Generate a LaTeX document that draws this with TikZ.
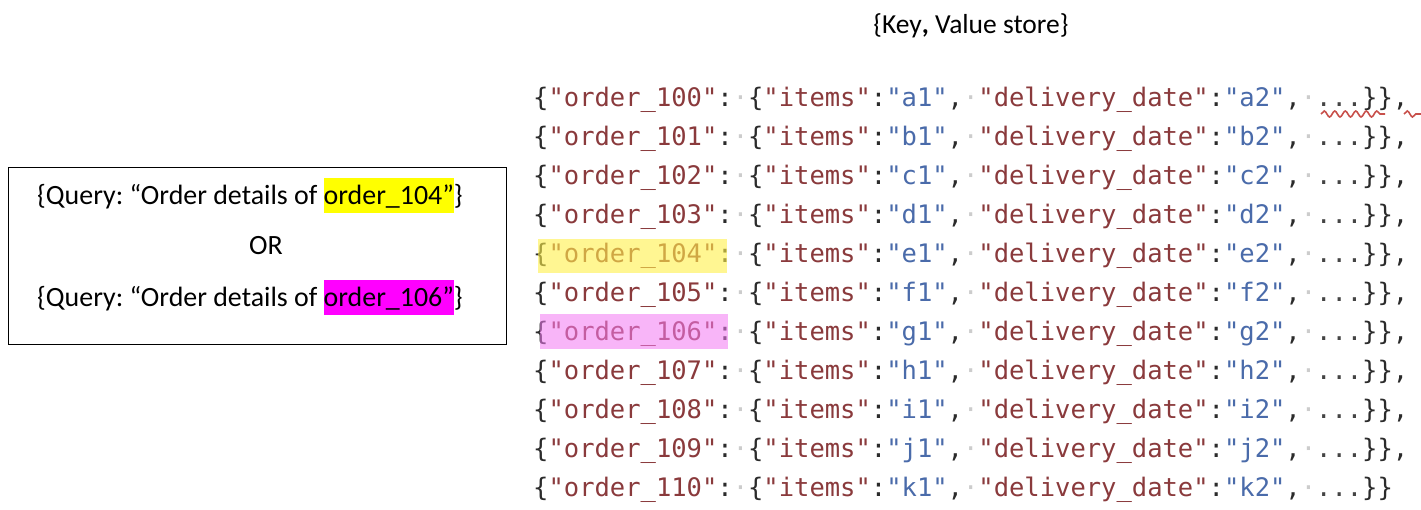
\documentclass[tikz,border=0pt]{standalone}
\usepackage{fontspec}
\setmainfont{Carlito}
\newfontfamily\codefont{DejaVu Sans Mono}
\usetikzlibrary{decorations.pathmorphing}
\definecolor{pc}{HTML}{2B2B2B}
\definecolor{kc}{HTML}{8A3A3C}
\definecolor{vc}{HTML}{4A6BAA}
\definecolor{dc}{HTML}{CCCCCC}
\definecolor{ec}{HTML}{444444}
\definecolor{hlyel}{HTML}{FFF04A}
\definecolor{hlpink}{HTML}{F47AF4}
\definecolor{squig}{HTML}{C8504B}
\definecolor{qyellow}{RGB}{255,255,0}
\definecolor{qmagenta}{RGB}{255,0,255}
\frenchspacing
\newcommand{\kvrow}[3]{%
{\color{pc}\{}{\color{kc}"order\_#1"}{\color{pc}:}{\color{dc}·}{\color{pc}\{}{\color{kc}"items"}{\color{pc}:}{\color{vc}"#21"}{\color{pc},}{\color{dc}·}{\color{kc}"delivery\_date"}{\color{pc}:}{\color{vc}"#22"}{\color{pc},}{\color{dc}·}{\color{ec}...}{\color{pc}\}\}#3}}
\newcommand{\hlbox}[2]{{\setlength{\fboxsep}{0pt}\colorbox{#1}{\rule[-9pt]{0pt}{35pt}#2}}}
\tikzset{
  coderow/.style={anchor=base west, inner sep=0pt, font=\codefont\fontsize{25.5}{30}\selectfont},
  qtext/.style={anchor=base west, inner sep=0pt, font=\fontsize{27.9}{32}\selectfont},
  qbox/.style={draw=black, line width=1pt, fill=none},
  squiggle/.style={squig, line width=1.6pt, decorate, decoration={snake, amplitude=3pt, segment length=10.5pt}},
}
\begin{document}
\begin{tikzpicture}[x=1pt,y=-1pt]
\useasboundingbox (0,0) rectangle (1421,509);
\fill[white] (0,0) rectangle (1421,509);
% title
\node[anchor=base, inner sep=0pt, font=\fontsize{27.5}{32}\selectfont] (title) at (971,33) {\{Key\textbf{,} Value store\}};
% query box
\draw[qbox] (8,167) rectangle (506,344);
\node[qtext] (q1) at (37,204) {\{Query: “Order details of \hlbox{qyellow}{order\_104”}\}};
\node[anchor=base, inner sep=0pt, font=\fontsize{27.9}{32}\selectfont] (qor) at (266,254) {OR};
\node[qtext] (q2) at (37,306) {\{Query: “Order details of \hlbox{qmagenta}{order\_106”}\}};
% key value rows
\foreach \n/\l/\e [count=\i from 0] in {100/a/{,},101/b/{,},102/c/{,},103/d/{,},104/e/{,},105/f/{,},106/g/{,},107/h/{,},108/i/{,},109/j/{,},110/k/{}}{
  \node[coderow] (row\n) at (533,{106+39*\i}) {\kvrow{\n}{\l}{\e}};
}
% highlights over keys
\fill[hlyel, fill opacity=0.6] (538,239) rectangle (727,273);
\fill[hlpink, fill opacity=0.55] (540,314) rectangle (728,349);
% spell-check squiggles
\draw[squiggle] (1321,114) -- (1385,114);
\draw[squiggle] (1404,114) -- (1421,114);
\end{tikzpicture}
\end{document}
